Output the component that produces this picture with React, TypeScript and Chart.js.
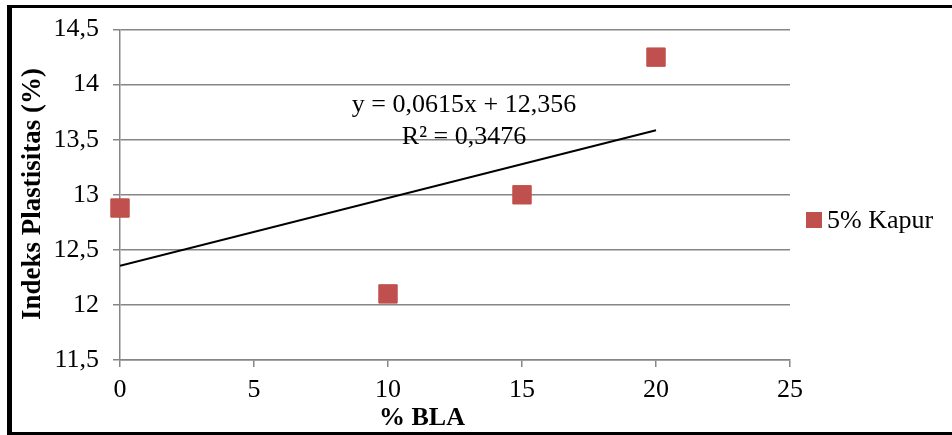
import React, { useEffect, useRef } from "react";
import { Chart, registerables } from "chart.js";

Chart.register(...registerables);

const blaPercent = [0, 10, 15, 20];
const plasticityIndex = [12.88, 12.1, 13.0, 14.25];
const trendX = [0, 20];
const trendSlope = 0.0615;
const trendIntercept = 12.356;
const seriesName = "5% Kapur";
const equationLines = ["y = 0,0615x + 12,356", "R² = 0,3476"];
const xTitle = "% BLA";
const yTitle = "Indeks Plastisitas (%)";

const FONT = "'Liberation Serif', 'Times New Roman', serif";
const RED = "#C0504D";

const overlay = {
  id: "overlay",
  afterDraw(chart: any) {
    const ctx = chart.ctx as CanvasRenderingContext2D;
    ctx.save();
    // frame
    ctx.fillStyle = "#000";
    ctx.fillRect(7, 5, 945, 3);
    ctx.fillRect(7, 5, 5, 430);
    ctx.fillRect(7, 432, 945, 3);
    // equation
    ctx.fillStyle = "#000";
    ctx.font = `26px ${FONT}`;
    ctx.textAlign = "center";
    ctx.textBaseline = "alphabetic";
    ctx.fillText(equationLines[0], 464, 112);
    ctx.fillText(equationLines[1], 464, 144);
    // x title
    ctx.font = `bold 26px ${FONT}`;
    ctx.fillText(xTitle, 422, 425);
    // y title
    ctx.save();
    ctx.translate(40, 194);
    ctx.rotate(-Math.PI / 2);
    ctx.font = `bold 27px ${FONT}`;
    ctx.fillText(yTitle, 0, 0);
    ctx.restore();
    // legend
    ctx.fillStyle = RED;
    ctx.fillRect(806, 212, 16, 16);
    ctx.fillStyle = "#000";
    ctx.font = `26px ${FONT}`;
    ctx.textAlign = "left";
    ctx.fillText(seriesName, 827, 228);
    ctx.restore();
  },
};

export default function App() {
  const ref = useRef<HTMLCanvasElement | null>(null);
  useEffect(() => {
    document.body.style.margin = "0";
    const canvas = ref.current!;
    const chart = new Chart(canvas, {
      type: "scatter",
      data: {
        datasets: [
          {
            label: seriesName,
            data: blaPercent.map((x, i) => ({ x, y: plasticityIndex[i] })),
            pointStyle: "rect",
            pointRadius: 13,
            pointHoverRadius: 13,
            backgroundColor: RED,
            borderColor: RED,
            borderWidth: 1,
            clip: false,
            order: 1,
          } as any,
          {
            type: "line",
            label: "trend",
            data: trendX.map((x) => ({ x, y: trendIntercept + trendSlope * x })),
            borderColor: "#000",
            borderWidth: 2,
            pointRadius: 0,
            fill: false,
            order: 2,
          } as any,
        ],
      },
      options: {
        responsive: false,
        animation: false,
        events: [],
        layout: {
          autoPadding: false,
          padding: { left: 0, top: 28, right: 162, bottom: 0 },
        } as any,
        plugins: {
          legend: { display: false },
          tooltip: { enabled: false },
        },
        scales: {
          x: {
            type: "linear",
            min: 0,
            max: 25,
            ticks: {
              stepSize: 5,
              color: "#000",
              font: { family: FONT, size: 26 },
              padding: 8,
              maxRotation: 0,
            },
            grid: {
              drawOnChartArea: false,
              drawTicks: true,
              tickLength: 7,
              color: "#868686",
              lineWidth: 1.5,
            },
            border: { display: true, color: "#868686", width: 1.5 },
            afterFit: (s: any) => {
              s.height = 75;
            },
          },
          y: {
            type: "linear",
            min: 11.5,
            max: 14.5,
            ticks: {
              stepSize: 0.5,
              color: "#000",
              font: { family: FONT, size: 26 },
              padding: 14,
              callback: (v: any) => String(v).replace(".", ","),
            },
            grid: {
              drawOnChartArea: true,
              drawTicks: true,
              tickLength: 7,
              color: "#868686",
              lineWidth: 1.5,
            },
            border: { display: true, color: "#868686", width: 1.5 },
            afterFit: (s: any) => {
              s.width = 120;
            },
          },
        },
      },
      plugins: [overlay],
    });
    return () => chart.destroy();
  }, []);
  return (
    <div style={{ position: "relative", width: 952, height: 435, background: "#fff" }}>
      <canvas ref={ref} width={952} height={435} />
    </div>
  );
}
